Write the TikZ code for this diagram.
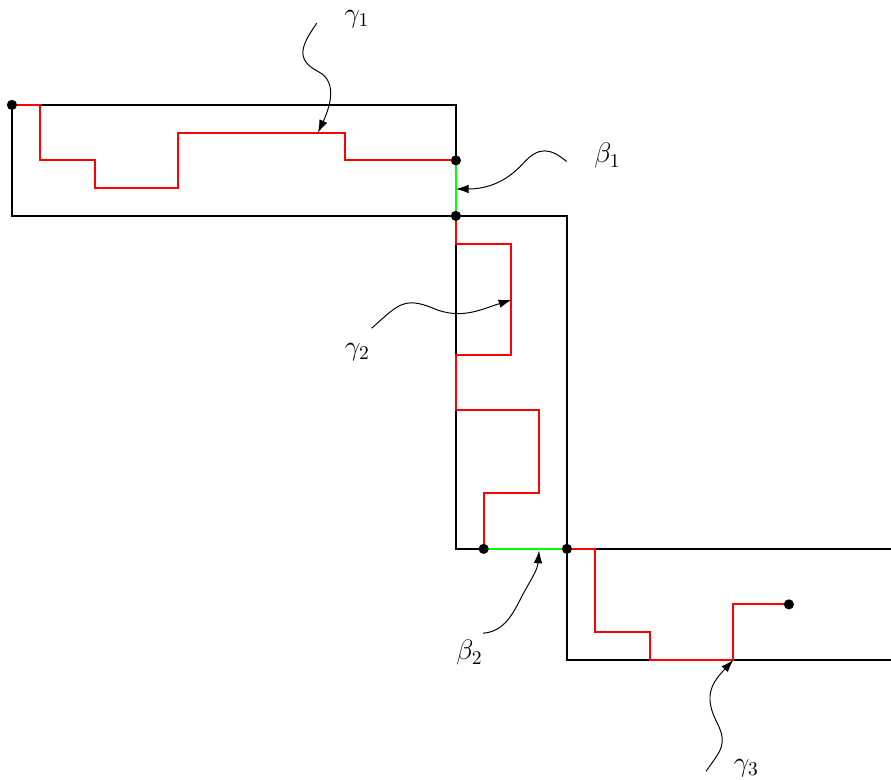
\documentclass[tikz,border=0pt]{standalone}
\usepackage{amsmath,amssymb}
\usepackage{tikz}
\usetikzlibrary{arrows.meta}

\begin{document}
\begin{tikzpicture}[
  x=5mm, y=5mm,
  wall/.style={black, line width=1pt},
  walk/.style={red, line width=1pt},
  link/.style={green, line width=1pt},
  lbl/.style={font=\Large, inner sep=1pt},
  arr/.style={-{Latex[length=6.5pt,width=4.4pt]}, black, line width=0.5pt}
]
\useasboundingbox (-0.43,-24.32) rectangle (31.68,3.78);
\coordinate (p0) at (0,0);
\coordinate (p1) at (16,-2);
\coordinate (p2) at (16,-4);
\coordinate (p3) at (17,-16);
\coordinate (p4) at (20,-16);
\coordinate (p5) at (28,-18);
\draw[wall] (0,0) rectangle (16,-4);
\draw[wall] (16,-4) rectangle (20,-16);
\draw[wall] (31.68,-16) -- (20,-16) -- (20,-20) -- (31.68,-20);
\draw[walk] (p0) -- (1,0) -- (1,-2) -- (3,-2) -- (3,-3) -- (6,-3) -- (6,-1) -- (12,-1) -- (12,-2) -- (p1);
\draw[walk] (p2) -- (16,-5) -- (18,-5) -- (18,-9) -- (16,-9) -- (16,-11) -- (19,-11) -- (19,-14) -- (17,-14) -- (p3);
\draw[walk] (p4) -- (21,-16) -- (21,-19) -- (23,-19) -- (23,-20) -- (26,-20) -- (26,-18) -- (p5);
\draw[link] (p1) -- (p2);
\draw[link] (p3) -- (p4);
\foreach \p in {p0,p1,p2,p3,p4,p5}
  \fill (\p) circle (2.6pt);
\node[lbl] (g1) at (12.43,3.1) {$\gamma_1$};
\node[lbl] (b1) at (21.46,-1.84) {$\beta_1$};
\node[lbl] (g2) at (12.45,-8.92) {$\gamma_2$};
\node[lbl] (b2) at (16.49,-19.75) {$\beta_2$};
\node[lbl] (g3) at (26.47,-23.9) {$\gamma_3$};
\coordinate (g1s) at (10.99,2.95);
\coordinate (b1s) at (19.99,-2.04);
\coordinate (g2s) at (12.96,-8.05);
\coordinate (b2s) at (16.98,-19.04);
\coordinate (g3s) at (25.01,-24.02);
\coordinate (g1t) at (11.03,-1);
\coordinate (b1t) at (16,-3.03);
\coordinate (g2t) at (18,-7.03);
\coordinate (b2t) at (19,-16.06);
\coordinate (g3t) at (26,-20);
\draw[arr] (g1s) to[out=235,in=153,looseness=1.4] (11.04,1.2) to[out=-27,in=65] (g1t);
\draw[arr] (b1s) to[out=140,in=48,looseness=1.3] (18.43,-2.1) to[out=228,in=0] (b1t);
\draw[arr] (g2s) to[out=41,in=157,looseness=1.3] (15.18,-7.33) to[out=-23,in=197] (g2t);
\draw[arr] (b2s) to[out=5,in=243] (18.31,-17.84) to[out=63,in=-95] (b2t);
\draw[arr] (g3s) to[out=55,in=297,looseness=1.3] (25.39,-22.22) to[out=117,in=227,looseness=1.2] (g3t);
\end{tikzpicture}
\end{document}
